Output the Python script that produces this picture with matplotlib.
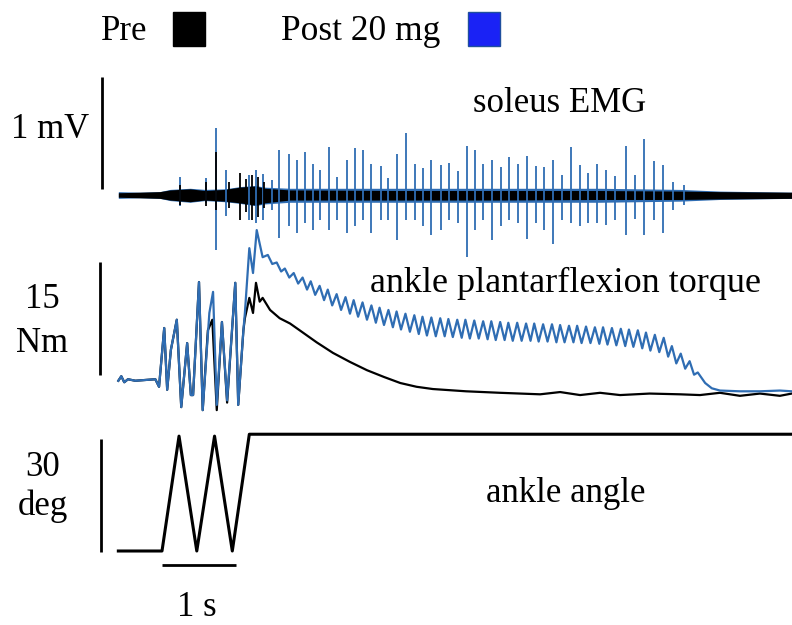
"""
Stretch-evoked clonus traces: soleus EMG, ankle plantarflexion torque and
ankle angle, before and after a 20 mg dose. Scale bars replace the axes.
"""

import matplotlib
matplotlib.use("Agg")
import matplotlib.pyplot as plt
import numpy as np
from matplotlib.patches import Rectangle

plt.rcParams["font.family"] = ["Liberation Serif", "DejaVu Serif"]

PRE_COLOUR = "#000000"
POST_COLOUR = "#2f6db3"
FONT_SIZE = 25

W, H = 792, 625

# ── Ankle angle (deg) ──────────────────────────────────────────────────────
angle_t = [-0.59, 0.0, 0.23, 0.47, 0.71, 0.95, 1.18, 8.51]
angle_deg = [0, 0, 30.5, 0, 30.5, 0, 31, 31]

# ── Torque (Nm) ────────────────────────────────────────────────────────────
# shared passive stretch segment
stretch_t = [-0.59, -0.55, -0.51, -0.46, -0.36, -0.23, -0.09, -0.04, 0.03, 0.07,
             0.12, 0.20, 0.26, 0.34, 0.39, 0.42, 0.50, 0.55]
stretch_nm = [-0.1, 0.5, -0.3, 0.1, -0.1, 0.0, 0.1, -0.9, 6.9, -1.3,
              4.0, 8.0, -3.6, 4.9, -2.0, -2.0, 13.0, -4.0]

pre_t = [0.62, 0.68, 0.74, 0.81, 0.88, 0.99, 1.03, 1.10, 1.12, 1.18,
         1.23, 1.27, 1.32, 1.36, 1.46, 1.59, 1.73, 1.86, 2.09, 2.31,
         2.54, 2.77, 3.00, 3.22, 3.44, 3.66, 4.11, 4.57, 5.11, 5.38,
         5.65, 5.92, 6.19, 6.59, 7.00, 7.27, 7.54, 7.81, 8.08, 8.35, 8.51]
pre_nm = [6.6, 8.0, -4.0, 7.7, -3.0, 12.9, -3.3, 6.6, 8.2, 10.9,
          8.9, 12.9, 10.4, 10.9, 9.3, 8.2, 7.5, 6.6, 5.0, 3.6,
          2.4, 1.3, 0.4, -0.4, -0.9, -1.2, -1.5, -1.7, -1.9, -1.6,
          -2.0, -1.7, -2.0, -1.8, -1.9, -2.0, -1.7, -2.1, -1.8, -2.1, -1.8]

post_t = [0.64, 0.69, 0.74, 0.81, 0.88, 0.99, 1.03, 1.10, 1.12, 1.18,
          1.23, 1.28, 1.36]
post_nm = [8.9, 11.7, -3.3, 7.7, -2.7, 12.9, -3.3, 6.6, 8.9, 17.5,
           14.2, 19.9, 16.3]

# clonic beats after the stretch: alternating peak / trough
clonus_t = [1.43, 1.49, 1.55, 1.61, 1.66, 1.72, 1.78, 1.84, 1.90, 1.96,
            2.01, 2.07, 2.13, 2.19, 2.24, 2.30, 2.36, 2.42, 2.48, 2.54,
            2.59, 2.65, 2.71, 2.77, 2.83, 2.89, 2.94, 3.00, 3.06, 3.12,
            3.17, 3.23, 3.29, 3.35, 3.41, 3.47, 3.52, 3.58, 3.64, 3.70,
            3.76, 3.82, 3.87, 3.93, 3.99, 4.05, 4.10, 4.16, 4.22, 4.28,
            4.34, 4.40, 4.45, 4.51, 4.57, 4.63, 4.68, 4.74, 4.80, 4.86,
            4.92, 4.98, 5.03, 5.09, 5.15, 5.21, 5.27, 5.33, 5.38, 5.44,
            5.50, 5.56, 5.61, 5.67, 5.73, 5.79, 5.85, 5.91, 5.96, 6.02,
            6.08, 6.14, 6.20, 6.26, 6.31, 6.37, 6.43, 6.49, 6.54, 6.60,
            6.66, 6.72, 6.78, 6.84, 6.89, 6.95, 7.01, 7.07, 7.13, 7.19]
clonus_nm = [16.6, 15.4, 15.6, 14.4, 14.8, 13.6, 14.2, 12.8, 13.6, 12.0,
             13.1, 11.3, 12.5, 10.6, 12.0, 9.9, 11.4, 9.3, 11.0, 8.8,
             10.6, 8.4, 10.3, 8.0, 9.9, 7.6, 9.6, 7.3, 9.3, 7.0,
             9.1, 6.7, 8.8, 6.4, 8.6, 6.1, 8.4, 5.9, 8.3, 5.8,
             8.2, 5.8, 8.1, 5.7, 8.0, 5.6, 8.0, 5.5, 7.9, 5.5,
             7.8, 5.4, 7.8, 5.3, 7.7, 5.3, 7.6, 5.2, 7.6, 5.2,
             7.5, 5.2, 7.5, 5.1, 7.4, 5.1, 7.4, 5.0, 7.3, 5.0,
             7.2, 5.0, 7.2, 4.9, 7.1, 4.9, 7.0, 4.8, 7.0, 4.7,
             6.9, 4.6, 6.8, 4.5, 6.7, 4.4, 6.6, 4.2, 6.3, 3.9,
             6.0, 3.7, 5.6, 3.1, 4.5, 2.2, 3.5, 1.5, 2.5, 0.7]
recovery_t = [7.24, 7.34, 7.43, 7.54, 7.81, 8.08, 8.35, 8.51]
recovery_nm = [1.0, -0.4, -1.1, -1.4, -1.5, -1.5, -1.4, -1.5]

# ── Soleus EMG (mV) ────────────────────────────────────────────────────────
post_spike_t = [0.24, 0.59, 0.73, 0.87, 1.17, 1.27, 1.37, 1.48, 1.58, 1.71,
                1.82, 1.93, 2.04, 2.14, 2.26, 2.37, 2.50, 2.61, 2.72, 2.83,
                2.96, 3.06, 3.18, 3.30, 3.42, 3.53, 3.64, 3.77, 3.88, 4.00,
                4.12, 4.23, 4.34, 4.46, 4.58, 4.69, 4.81, 4.93, 5.05, 5.16,
                5.28, 5.40, 5.53, 5.65, 5.76, 5.88, 6.00, 6.12, 6.27, 6.39,
                6.52, 6.65, 6.77, 6.90, 7.05]
post_spike_top = [0.16, 0.15, 0.60, 0.22, 0.18, 0.22, 0.19, 0.13, 0.40, 0.37,
                  0.31, 0.38, 0.28, 0.22, 0.43, 0.16, 0.31, 0.42, 0.40, 0.28,
                  0.26, 0.15, 0.37, 0.55, 0.28, 0.24, 0.31, 0.27, 0.29, 0.21,
                  0.44, 0.40, 0.28, 0.31, 0.25, 0.34, 0.28, 0.35, 0.26, 0.25,
                  0.31, 0.18, 0.43, 0.27, 0.20, 0.28, 0.22, 0.17, 0.44, 0.18,
                  0.50, 0.30, 0.27, 0.12, 0.09]
post_spike_bot = [-0.10, -0.07, -0.49, -0.19, -0.22, -0.25, -0.22, -0.13, -0.38, -0.28,
                  -0.34, -0.25, -0.31, -0.22, -0.31, -0.22, -0.34, -0.28, -0.22, -0.34,
                  -0.22, -0.22, -0.40, -0.22, -0.22, -0.28, -0.36, -0.31, -0.22, -0.25,
                  -0.55, -0.31, -0.22, -0.40, -0.28, -0.22, -0.25, -0.39, -0.25, -0.31,
                  -0.44, -0.22, -0.25, -0.28, -0.25, -0.25, -0.27, -0.22, -0.36, -0.21,
                  -0.36, -0.22, -0.34, -0.13, -0.09]

pre_spike_t = [0.24, 0.59, 0.73, 0.90, 1.05, 1.14, 1.22, 1.30, 1.38]
pre_spike_top = [0.09, 0.12, 0.38, 0.12, 0.20, 0.14, 0.18, 0.16, 0.12]
pre_spike_bot = [-0.09, -0.10, -0.13, -0.12, -0.22, -0.15, -0.22, -0.20, -0.12]

# background activity envelope
band_t = [-0.59, -0.30, -0.03, 0.11, 0.38, 0.58, 0.85, 1.05, 1.26, 1.39,
          1.73, 3.22, 4.57, 5.92, 7.00, 7.54, 8.51]
pre_band_hi = [0.02, 0.025, 0.03, 0.045, 0.055, 0.04, 0.05, 0.07, 0.08, 0.06,
               0.045, 0.04, 0.04, 0.04, 0.035, 0.03, 0.025]
pre_band_lo = [-0.02, -0.025, -0.03, -0.045, -0.06, -0.045, -0.055, -0.07, -0.09, -0.07,
               -0.045, -0.045, -0.045, -0.04, -0.04, -0.035, -0.03]
post_band_hi = [0.03, 0.025, 0.03, 0.05, 0.06, 0.05, 0.055, 0.075, 0.085, 0.07,
                0.06, 0.06, 0.06, 0.06, 0.05, 0.035, 0.025]
post_band_lo = [-0.03, -0.025, -0.03, -0.05, -0.065, -0.05, -0.06, -0.075, -0.095, -0.08,
                -0.065, -0.065, -0.065, -0.065, -0.055, -0.04, -0.03]


# ── Layout helpers ─────────────────────────────────────────────────────────

PX_PER_S = 74.0
T_ZERO_PX = 162.0


def trace_axes(fig, base_px, px_per_unit):
    """Full-figure transparent axes whose zero sits at row *base_px*."""
    ax = fig.add_axes([0, 0, 1, 1])
    ax.set_xlim(-T_ZERO_PX / PX_PER_S, (W - T_ZERO_PX) / PX_PER_S)
    ax.set_ylim((base_px - H) / px_per_unit, base_px / px_per_unit)
    ax.axis("off")
    ax.patch.set_alpha(0)
    return ax


def t_at(x_px):
    return (x_px - T_ZERO_PX) / PX_PER_S


def fig_text(fig, x_px, y_px, s, **kw):
    kw.setdefault("fontsize", FONT_SIZE)
    fig.text(x_px / W, 1 - y_px / H, s, ha="center", va="center", **kw)


fig = plt.figure(figsize=(W / 100, H / 100), dpi=100)

# ── EMG ────────────────────────────────────────────────────────────────────
ax_emg = trace_axes(fig, 195, 112.0)
ax_emg.fill_between(band_t, post_band_lo, post_band_hi, color=POST_COLOUR, lw=0)
ax_emg.vlines(post_spike_t, post_spike_bot, post_spike_top, color=POST_COLOUR, lw=1.3)
ax_emg.fill_between(band_t, pre_band_lo, pre_band_hi, color=PRE_COLOUR, lw=0)
ax_emg.vlines(pre_spike_t, pre_spike_bot, pre_spike_top, color=PRE_COLOUR, lw=1.3)
ax_emg.plot([t_at(102)] * 2, [0.05, 1.05], color="black", lw=2, solid_capstyle="butt")

# ── Torque ─────────────────────────────────────────────────────────────────
ax_tq = trace_axes(fig, 380, 113 / 15)
post_full_t = np.concatenate([stretch_t, post_t, clonus_t, recovery_t])
post_full_nm = np.concatenate([stretch_nm, post_nm, clonus_nm, recovery_nm])
pre_full_t = np.concatenate([stretch_t, pre_t])
pre_full_nm = np.concatenate([stretch_nm, pre_nm])
ax_tq.plot(pre_full_t, pre_full_nm, color=PRE_COLOUR, lw=1.6,
           solid_joinstyle="round")
ax_tq.plot(post_full_t, post_full_nm, color=POST_COLOUR, lw=1.6,
           solid_joinstyle="round")
ax_tq.plot([t_at(100)] * 2, [0.66, 15.66], color="black", lw=2, solid_capstyle="butt")

# ── Angle ──────────────────────────────────────────────────────────────────
ax_ang = trace_axes(fig, 551, 113 / 30)
ax_ang.plot(angle_t, angle_deg, color="black", lw=2.2)
ax_ang.plot([t_at(101)] * 2, [-0.3, 29.7], color="black", lw=2, solid_capstyle="butt")
ax_ang.plot([0, 1], [-3.7, -3.7], color="black", lw=2, solid_capstyle="butt")

# ── Labels ─────────────────────────────────────────────────────────────────
fig_text(fig, 50, 130, "1 mV")
fig_text(fig, 42, 300, "15")
fig_text(fig, 42, 343, "Nm")
fig_text(fig, 43, 467, "30")
fig_text(fig, 43, 506, "deg")
fig_text(fig, 197, 607, "1 s")
fig_text(fig, 560, 103, "soleus EMG")
fig_text(fig, 565, 283, "ankle plantarflexion torque", fontsize=26)
fig_text(fig, 566, 493, "ankle angle")

# legend
fig_text(fig, 124, 31, "Pre")
fig_text(fig, 361, 31, "Post 20 mg", fontsize=25.5)
for x0, face, edge in [(173, "#000000", "#000000"), (468, "#1a22f5", "#1f4f9e")]:
    fig.patches.append(Rectangle((x0 / W, 1 - 46 / H), 32 / W, 34 / H,
                                 transform=fig.transFigure, facecolor=face,
                                 edgecolor=edge, lw=1))

fig.savefig("out.png", dpi=100)
plt.close(fig)
